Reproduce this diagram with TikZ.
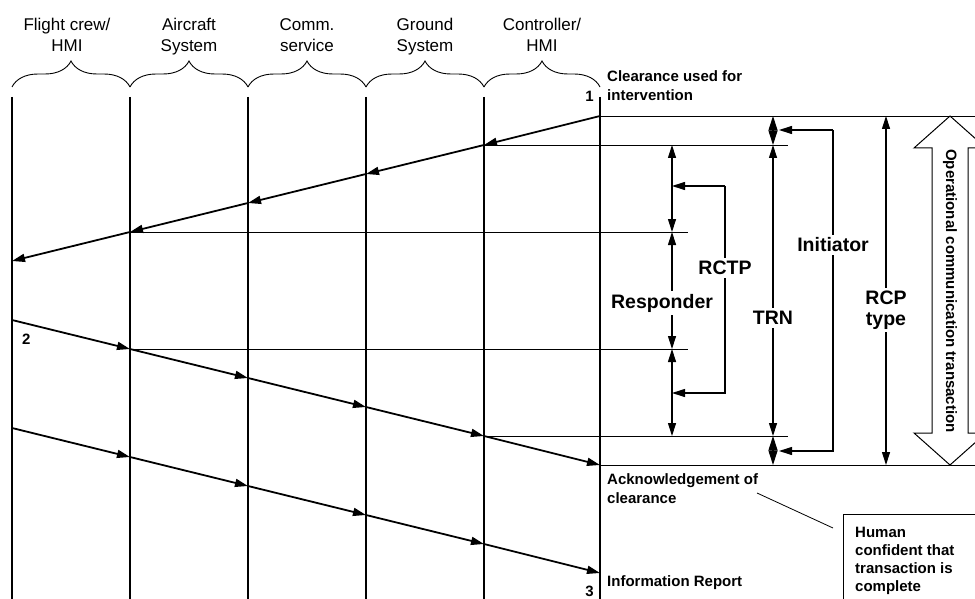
\documentclass[tikz,border=0pt]{standalone}
\usepackage{fontspec}
\setmainfont{Liberation Sans}
\usetikzlibrary{arrows.meta,decorations.pathreplacing}
\begin{document}
\begin{tikzpicture}[x=1pt,y=-1pt,
  lane/.style={line width=2pt},
  msg/.style={line width=1.8pt,-{Triangle[length=13pt,width=8pt]}},
  thinline/.style={line width=0.9pt},
  dim/.style={line width=1.1pt,{Triangle[length=13pt,width=8pt]}-{Triangle[length=13pt,width=8pt]}},
  diam/.style={line width=1.1pt,{Triangle[length=14.5pt,width=9pt]}-{Triangle[length=14.5pt,width=9pt]}},
  hdr/.style={font=\fontsize{17}{21}\selectfont,align=center,inner sep=0pt},
  lbl/.style={font=\fontsize{15}{19}\selectfont\bfseries,align=left,inner sep=0pt},
  big/.style={font=\fontsize{19.5}{21}\selectfont\bfseries,fill=white,inner sep=3pt,align=center},
  brc/.style={line width=0.9pt,decorate,decoration={brace,amplitude=26pt}}
]
\useasboundingbox (0,0) rectangle (975,599);
\fill[white] (0,0) rectangle (975,599);

% lanes
\foreach \i/\x in {0/12,1/130,2/248,3/366,4/484,5/600}{
  \coordinate (top\i) at (\x,97);
  \coordinate (bot\i) at (\x,599);
  \coordinate (brk\i) at (\x,87);
  \coordinate (a\i) at (\x,{261-29*\i});
  \coordinate (b\i) at (\x,{320+29*\i});
  \coordinate (c\i) at (\x,{428+29*\i});
}
\foreach \i in {0,...,5}{ \draw[lane] (top\i) -- (bot\i); }
\foreach \i/\j in {0/1,1/2,2/3,3/4,4/5}{ \draw[brc] (brk\i) -- (brk\j); }

% headers
\node[hdr,anchor=north] (h0) at (67,16) {\strut Flight crew/\\\strut HMI};
\node[hdr,anchor=north] (h1) at (189,16) {\strut Aircraft\\\strut System};
\node[hdr,anchor=north] (h2) at (307,16) {\strut Comm.\\\strut service};
\node[hdr,anchor=north] (h3) at (425,16) {\strut Ground\\\strut System};
\node[hdr,anchor=north] (h4) at (542,16) {\strut Controller/\\\strut HMI};

% reference lines
\coordinate (e1) at (975,116);
\coordinate (e2) at (975,465);
\coordinate (g1) at (788,145);
\coordinate (g2) at (688,232);
\coordinate (g3) at (688,349);
\coordinate (g4) at (788,436);
\draw[thinline] (a5) -- (e1);
\draw[thinline] (a4) -- (g1);
\draw[thinline] (a1) -- (g2);
\draw[thinline] (b1) -- (g3);
\draw[thinline] (b4) -- (g4);
\draw[thinline] (b5) -- (e2);

% messages
\foreach \i/\j in {5/4,4/3,3/2,2/1,1/0}{ \draw[msg] (a\i) -- (a\j); }
\foreach \i/\j in {0/1,1/2,2/3,3/4,4/5}{ \draw[msg] (b\i) -- (b\j); \draw[msg] (c\i) -- (c\j); }

% labels on the lanes
\node[lbl,anchor=base east] (n1) at (594,102) {1};
\node[lbl,anchor=base west] (n2) at (22,344) {2};
\node[lbl,anchor=base east] (n3) at (594,596) {3};
\node[lbl,anchor=north west] (clr) at (607,70.5) {Clearance used for\\intervention};
\node[lbl,anchor=north west] (ack) at (607,473) {Acknowledgement of\\clearance};
\node[lbl,anchor=north west] (inf) at (607,575.5) {Information Report};

% responder / RCTP
\coordinate (m1) at (672,145);
\coordinate (m2) at (672,232);
\coordinate (m3) at (672,349);
\coordinate (m4) at (672,436);
\draw[dim] (m1) -- (m2);
\draw[dim] (m2) -- (m3);
\draw[dim] (m3) -- (m4);
\coordinate (q1) at (672,186);
\coordinate (p1) at (725,186);
\coordinate (p2) at (725,393);
\coordinate (q2) at (672,393);
\draw[line width=1.1pt,-{Triangle[length=13pt,width=8pt]}] (p1) -- (q1);
\draw[line width=1.1pt,-{Triangle[length=13pt,width=8pt]}] (p1) -- (p2) -- (q2);
\node[big] (rctp) at (725,268) {RCTP};
\node[big] (resp) at (662,303) {Responder};

% TRN / initiator
\coordinate (t0) at (773,116);
\coordinate (t1) at (773,145);
\coordinate (t2) at (773,436);
\coordinate (t3) at (773,465);
\draw[diam] (t0) -- (t1);
\draw[diam] (t2) -- (t3);
\draw[dim] (t1) -- (t2);
\node[big] (trn) at (773,318) {TRN};
\coordinate (i1) at (779,130);
\coordinate (i2) at (833,130);
\coordinate (i3) at (833,451);
\coordinate (i4) at (779,451);
\draw[line width=1.1pt,-{Triangle[length=13pt,width=8pt]}] (i2) -- (i1);
\draw[line width=1.1pt,-{Triangle[length=13pt,width=8pt]}] (i2) -- (i3) -- (i4);
\node[big] (init) at (833,245) {Initiator};

% RCP type
\coordinate (r0) at (886,116);
\coordinate (r1) at (886,465);
\draw[dim] (r0) -- (r1);
\node[big] (rcp) at (886,310) {RCP\\type};

% big hollow double arrow
\draw[line width=1pt,fill=white] (950,116) -- (986,148) -- (968,148) -- (968,433) -- (986,433)
  -- (950,465) -- (914,433) -- (932,433) -- (932,148) -- (914,148) -- cycle;
\node[font=\fontsize{15}{17}\selectfont\bfseries,rotate=-90,inner sep=0pt] (oct) at (950,291)
  {Operational communication transaction};

% human box
\node[draw,line width=1pt,anchor=north west,minimum width=170pt,minimum height=110pt] (human) at (843,514) {};
\node[font=\fontsize{15}{18}\selectfont\bfseries,align=left,inner sep=0pt,anchor=north west]
  (humantxt) at (855,526.5) {Human\\confident that\\transaction is\\complete};
\coordinate (ld1) at (757,493);
\coordinate (ld2) at (833,528);
\draw[line width=0.8pt] (ld1) -- (ld2);
\end{tikzpicture}
\end{document}
